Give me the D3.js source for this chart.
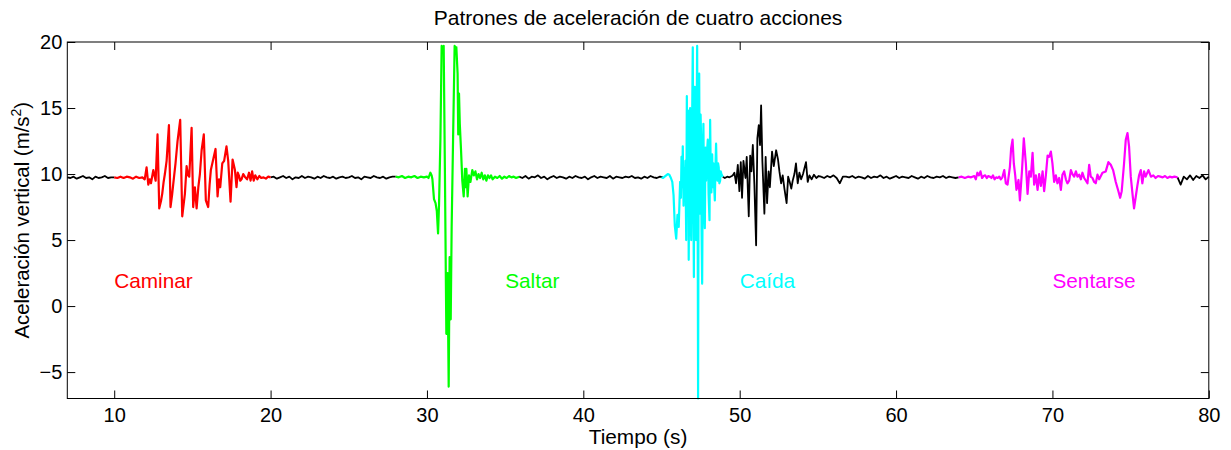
<!DOCTYPE html>
<html>
<head>
<meta charset="utf-8">
<script src="https://cdn.jsdelivr.net/npm/d3@7"></script>
<style>
  body { margin: 0; background: #fff; }
  text { font-family: "Liberation Sans", Arial, sans-serif; }
</style>
</head>
<body>
<div class="container"></div>
<script>
const WIDTH = 1231;
const HEIGHT = 450;
const MARGIN = { top: 42, right: 21, bottom: 52, left: 67 };

const xTicks = [10, 20, 30, 40, 50, 60, 70, 80];
const yTicks = [-5, 0, 5, 10, 15, 20];

// tramos en reposo (negro), una muestra cada 0.2 s
const negro1V = [9.75, 9.7, 9.8, 9.65, 9.75, 9.85, 9.7, 9.75, 9.6, 9.8, 9.7, 9.75, 9.85, 9.7, 9.75, 9.75];
const negro2V = [9.75, 9.8, 9.65, 9.75, 9.85, 9.7, 9.8, 9.6, 9.75, 9.7, 9.85, 9.7, 9.8, 9.75, 9.65, 9.8, 9.7, 9.85, 9.75, 9.7,
  9.8, 9.65, 9.75, 9.8, 9.7, 9.75, 9.85, 9.7, 9.75, 9.6, 9.8, 9.75, 9.7, 9.85, 9.75, 9.7, 9.8, 9.65, 9.75, 9.8, 9.8];
const negro3V = [9.8, 9.7, 9.85, 9.65, 9.8, 9.75, 9.9, 9.7, 9.8, 9.6, 9.75, 9.85, 9.7, 9.8, 9.75, 9.65, 9.8, 9.7, 9.85, 9.75,
  9.7, 9.8, 9.6, 9.75, 9.85, 9.7, 9.8, 9.75, 9.7, 9.85, 9.65, 9.8, 9.75, 9.7, 9.8, 9.75, 9.85, 9.7, 9.75, 9.65,
  9.8, 9.7, 9.85, 9.75, 9.7, 9.8, 9.75];
const negro4V = [9.8, 9.7, 9.85, 9.75, 9.9, 9.7, 9.3, 9.8, 9.8, 9.75, 9.85, 9.7, 9.8, 9.75, 9.65, 9.85, 9.7, 9.8, 9.75, 9.9,
  9.7, 9.8, 9.65, 9.75, 9.85, 9.7, 9.8, 9.75, 9.7, 9.85, 9.75, 9.65, 9.8, 9.7, 9.85, 9.75, 9.7, 9.8, 9.75, 9.85,
  9.7, 9.8, 9.75, 9.7, 9.75];
const negro5V = [9.75, 9.2, 9.8, 9.6, 9.9, 9.55, 9.85, 9.7, 9.9, 9.6, 9.8];
const negroInicio = [7.0, 20.0, 35.9, 55.2, 78.0];

// respuesta tras la caída (negro), [t, a]
const negroCaida = [[48.92, 9.8], [49.05, 9.7], [49.2, 9.8], [49.35, 9.75], [49.5, 9.85], [49.56, 9.9], [49.66, 10.1], [49.77, 9.3],
  [49.88, 10.7], [49.98, 8.7], [50.07, 10.9], [50.15, 8.2], [50.24, 11.0], [50.37, 9.7], [50.45, 11.3], [50.58, 6.8],
  [50.67, 11.4], [50.75, 10.2], [50.84, 12.2], [50.94, 9.2], [51.05, 4.6], [51.13, 12.7], [51.22, 13.7], [51.3, 12.2],
  [51.37, 15.2], [51.45, 11.0], [51.58, 7.0], [51.66, 11.3], [51.75, 7.8], [51.85, 10.2], [51.93, 9.0], [52.07, 11.7],
  [52.18, 10.6], [52.33, 11.8], [52.45, 11.1], [52.54, 10.2], [52.65, 9.3], [52.75, 9.9], [52.86, 8.9], [53.0, 7.8],
  [53.1, 9.8], [53.2, 9.4], [53.3, 8.9], [53.39, 9.5], [53.5, 10.0], [53.6, 10.8], [53.71, 9.3], [53.82, 10.1],
  [53.93, 9.6], [54.05, 10.0], [54.24, 10.9], [54.35, 9.4], [54.46, 9.9], [54.6, 9.6], [54.75, 9.95], [54.9, 9.7],
  [55.05, 9.85], [55.2, 9.8]];

// acciones (en color), [t, a]
const caminar = [[10.0, 9.75], [10.2, 9.7], [10.4, 9.8], [10.6, 9.7], [10.8, 9.8], [11.0, 9.75], [11.2, 9.65], [11.4, 9.8],
  [11.6, 9.7], [11.8, 9.75], [11.95, 9.6], [12.07, 10.5], [12.18, 9.2], [12.27, 9.6], [12.35, 9.3], [12.5, 10.3],
  [12.65, 9.5], [12.77, 13.0], [12.88, 7.4], [13.0, 8.0], [13.07, 8.5], [13.16, 9.4], [13.24, 10.0], [13.35, 11.0],
  [13.5, 13.7], [13.6, 7.5], [13.7, 8.4], [13.78, 9.3], [13.92, 10.8], [14.05, 12.5], [14.22, 14.1], [14.35, 6.8],
  [14.45, 7.8], [14.52, 8.5], [14.63, 10.6], [14.72, 9.9], [14.8, 9.8], [14.95, 13.5], [15.05, 7.5], [15.16, 9.0],
  [15.27, 7.4], [15.38, 9.0], [15.48, 10.0], [15.59, 11.8], [15.73, 13.0], [15.86, 8.0], [16.01, 7.5], [16.1, 9.2],
  [16.18, 10.3], [16.33, 11.1], [16.48, 11.9], [16.61, 8.3], [16.7, 9.6], [16.78, 9.0], [16.91, 10.8], [17.03, 11.0],
  [17.18, 12.1], [17.29, 11.0], [17.44, 7.9], [17.57, 11.1], [17.72, 10.3], [17.82, 9.0], [17.9, 10.1], [17.97, 9.9],
  [18.06, 9.5], [18.14, 9.6], [18.25, 10.0], [18.35, 9.8], [18.5, 9.6], [18.62, 10.1], [18.72, 9.5], [18.82, 10.2],
  [18.92, 9.5], [19.02, 9.9], [19.15, 9.6], [19.28, 9.85], [19.4, 9.7], [19.55, 9.75], [19.7, 9.65], [19.85, 9.8],
  [20.0, 9.75]];

const saltar = [[28.0, 9.8], [28.2, 9.75], [28.4, 9.85], [28.6, 9.7], [28.8, 9.8], [29.0, 9.75], [29.2, 9.85], [29.4, 9.7],
  [29.6, 9.8], [29.8, 9.75], [30.0, 9.8], [30.1, 9.7], [30.22, 10.1], [30.3, 9.9], [30.35, 9.6], [30.45, 8.1],
  [30.55, 7.8], [30.63, 7.2], [30.71, 5.5], [30.77, 7.6], [30.86, 12.6], [30.94, 19.7], [31.0, 19.6], [31.07, 19.7],
  [31.15, 10.0], [31.24, -2.1], [31.32, 2.5], [31.39, -6.1], [31.45, 3.7], [31.52, -1.0], [31.58, 6.0], [31.67, 12.6],
  [31.77, 19.7], [31.83, 19.5], [31.88, 19.6], [31.96, 17.6], [32.0, 13.0], [32.05, 16.1], [32.1, 13.8], [32.18, 11.8],
  [32.26, 9.5], [32.35, 8.3], [32.43, 10.4], [32.48, 9.0], [32.52, 10.4], [32.6, 8.3], [32.69, 9.9], [32.78, 9.4],
  [32.9, 10.3], [33.0, 9.9], [33.1, 10.2], [33.2, 9.6], [33.3, 10.0], [33.4, 9.7], [33.5, 10.1], [33.6, 9.6],
  [33.7, 9.9], [33.8, 9.5], [33.9, 9.9], [34.0, 9.7], [34.1, 9.9], [34.2, 9.6], [34.35, 9.8], [34.5, 9.7],
  [34.65, 9.85], [34.8, 9.65], [34.95, 9.8], [35.1, 9.7], [35.25, 9.85], [35.4, 9.75], [35.55, 9.8], [35.7, 9.7],
  [35.9, 9.8]];

const caida = [[45.0, 9.75], [45.1, 9.7], [45.2, 9.8], [45.3, 9.9], [45.4, 10.0], [45.5, 9.95], [45.6, 9.7], [45.69, 9.4],
  [45.77, 8.4], [45.85, 6.1], [45.94, 5.1], [46.02, 6.9], [46.1, 6.0], [46.19, 9.4], [46.24, 8.2], [46.28, 11.3],
  [46.33, 9.0], [46.36, 12.1], [46.41, 7.6], [46.45, 10.4], [46.49, 8.4], [46.53, 11.0], [46.58, 5.0], [46.62, 15.9],
  [46.66, 8.0], [46.7, 14.8], [46.74, 3.5], [46.79, 12.0], [46.83, 15.0], [46.87, 6.5], [46.9, 5.0], [46.95, 13.0],
  [47.0, 19.6], [47.04, 8.0], [47.07, 2.2], [47.1, 12.5], [47.13, 16.6], [47.17, 9.0], [47.21, 5.0], [47.25, 14.0],
  [47.28, 19.7], [47.31, 9.0], [47.34, -7.0], [47.37, 10.0], [47.41, 17.6], [47.44, 10.0], [47.47, 7.0], [47.5, 14.5],
  [47.53, 12.8], [47.56, 6.0], [47.6, 1.7], [47.64, 11.0], [47.68, 13.8], [47.72, 8.0], [47.77, 5.9], [47.81, 12.0],
  [47.85, 9.5], [47.9, 11.5], [47.96, 12.6], [48.01, 8.5], [48.07, 6.5], [48.11, 14.1], [48.15, 10.0], [48.19, 8.6],
  [48.24, 11.5], [48.28, 9.0], [48.32, 10.8], [48.36, 9.2], [48.41, 8.0], [48.45, 10.5], [48.49, 12.3], [48.54, 9.8],
  [48.58, 9.5], [48.62, 10.8], [48.66, 10.5], [48.7, 9.3], [48.75, 9.5], [48.79, 10.2], [48.83, 10.0], [48.92, 9.8]];

const sentarse = [[64.0, 9.75], [64.2, 9.8], [64.4, 9.7], [64.6, 9.8], [64.8, 9.75], [65.0, 9.85], [65.1, 9.6], [65.2, 10.1],
  [65.3, 9.9], [65.4, 10.2], [65.5, 9.7], [65.6, 9.85], [65.7, 9.9], [65.8, 9.7], [65.9, 9.85], [66.0, 9.8],
  [66.1, 9.7], [66.2, 9.9], [66.3, 9.6], [66.4, 9.75], [66.5, 9.7], [66.6, 9.8], [66.7, 9.6], [66.8, 9.75],
  [66.92, 10.3], [67.02, 9.3], [67.13, 9.2], [67.28, 10.55], [67.36, 11.95], [67.45, 12.6], [67.53, 10.8], [67.62, 9.9],
  [67.7, 8.8], [67.83, 9.55], [67.92, 8.0], [68.05, 10.2], [68.17, 12.7], [68.3, 10.8], [68.41, 8.5], [68.52, 10.2],
  [68.62, 9.8], [68.73, 11.6], [68.83, 9.2], [68.94, 9.9], [69.05, 8.8], [69.15, 10.0], [69.26, 9.1], [69.37, 10.2],
  [69.47, 8.7], [69.58, 9.9], [69.69, 11.4], [69.79, 11.3], [69.9, 11.7], [70.0, 10.8], [70.11, 9.4], [70.22, 9.9],
  [70.32, 9.3], [70.43, 9.7], [70.54, 8.8], [70.64, 9.95], [70.75, 10.2], [70.86, 9.6], [70.96, 9.3], [71.07, 9.5],
  [71.18, 10.3], [71.28, 10.0], [71.39, 9.8], [71.5, 10.2], [71.6, 9.8], [71.71, 9.95], [71.82, 9.6], [71.92, 10.1],
  [72.03, 9.7], [72.24, 9.3], [72.35, 10.7], [72.45, 9.8], [72.56, 9.7], [72.67, 9.4], [72.77, 9.3], [72.88, 9.95],
  [72.99, 9.6], [73.2, 10.1], [73.41, 10.2], [73.58, 10.9], [73.73, 10.7], [73.88, 10.3], [74.05, 9.4], [74.22, 8.7],
  [74.33, 8.2], [74.43, 8.7], [74.58, 10.8], [74.69, 12.6], [74.8, 13.1], [74.9, 12.1], [75.01, 9.8], [75.12, 8.5],
  [75.22, 7.4], [75.33, 8.3], [75.43, 9.1], [75.54, 9.9], [75.65, 10.3], [75.75, 9.3], [75.86, 10.2], [75.96, 9.8],
  [76.14, 10.3], [76.3, 9.8], [76.45, 9.9], [76.6, 9.7], [76.75, 9.85], [76.9, 9.8], [77.05, 9.75], [77.2, 9.85],
  [77.35, 9.7], [77.5, 9.8], [77.65, 9.75], [77.8, 9.8], [78.0, 9.75]];

const acciones = ["Caminar", "Saltar", "Caída", "Sentarse"];
const accionesT = [10, 35, 50, 70];
const accionesA = [2, 2, 2, 2];
const colores = ["#ff0000", "#00ff00", "#00ffff", "#ff00ff"];

var loadChart = function () {
    var svg = d3.select(".container")
        .append("svg")
        .attr("width", WIDTH)
        .attr("height", HEIGHT);

    var xScale = d3.scaleLinear()
        .domain([7, 80])
        .range([MARGIN.left + 0.3, WIDTH - MARGIN.right - 1.2]);

    var yScale = d3.scaleLinear()
        .domain([-7, 20])
        .range([HEIGHT - MARGIN.bottom + 0.5, MARGIN.top]);

    var x0 = xScale.range()[0], x1 = xScale.range()[1];
    var y0 = yScale.range()[0], y1 = yScale.range()[1];

    var line = d3.line()
        .x(function (d) { return xScale(d[0]); })
        .y(function (d) { return yScale(d[1]); });

    var plot = svg.append("g");

    // negro primero, las acciones encima
    var negros = [negro1V, negro2V, negro3V, negro4V, negro5V].map(function (vals, k) {
        return vals.map(function (v, i) { return [negroInicio[k] + i * 0.2, v]; });
    });
    negros.push(negroCaida);
    negros.forEach(function (seg) {
        plot.append("path")
            .attr("d", line(seg))
            .attr("fill", "none")
            .attr("stroke", "#000")
            .attr("stroke-width", 1.8)
            .attr("stroke-linejoin", "round");
    });

    [caminar, saltar, caida, sentarse].forEach(function (seg, i) {
        plot.append("path")
            .attr("d", line(seg))
            .attr("fill", "none")
            .attr("stroke", colores[i])
            .attr("stroke-width", 2.2)
            .attr("stroke-linejoin", "round");
    });

    // ejes (marcas hacia dentro, en los cuatro lados)
    var ax = svg.append("g").attr("stroke", "#000").attr("stroke-width", 1);
    ax.append("rect")
        .attr("x", x0).attr("y", y1)
        .attr("width", x1 - x0).attr("height", y0 - y1)
        .attr("fill", "none");

    svg.append("g")
        .attr("transform", "translate(0," + y0 + ")")
        .call(d3.axisBottom(xScale).tickValues(xTicks).tickSizeInner(-8).tickSizeOuter(0).tickPadding(9))
        .call(function (g) { g.select(".domain").remove(); });
    svg.append("g")
        .attr("transform", "translate(0," + y1 + ")")
        .call(d3.axisTop(xScale).tickValues(xTicks).tickSizeInner(-8).tickSizeOuter(0).tickFormat(""))
        .call(function (g) { g.select(".domain").remove(); });
    svg.append("g")
        .attr("transform", "translate(" + x0 + ",0)")
        .call(d3.axisLeft(yScale).tickValues(yTicks).tickSizeInner(-8).tickSizeOuter(0).tickPadding(5)
            .tickFormat(function (d) { return d < 0 ? "\u2212" + Math.abs(d) : d; }))
        .call(function (g) { g.select(".domain").remove(); });
    svg.append("g")
        .attr("transform", "translate(" + x1 + ",0)")
        .call(d3.axisRight(yScale).tickValues(yTicks).tickSizeInner(-8).tickSizeOuter(0).tickFormat(""))
        .call(function (g) { g.select(".domain").remove(); });

    svg.selectAll(".tick text")
        .attr("font-family", "Liberation Sans, Arial, sans-serif")
        .attr("font-size", 20)
        .attr("fill", "#000");
    svg.selectAll(".tick line").attr("stroke", "#000");

    // etiquetas de las acciones
    acciones.forEach(function (nombre, i) {
        svg.append("text")
            .attr("x", xScale(accionesT[i]))
            .attr("y", yScale(accionesA[i]))
            .attr("dy", "0.38em")
            .attr("font-size", 20.8)
            .attr("fill", colores[i])
            .text(nombre);
    });

    svg.append("text")
        .attr("x", (x0 + x1) / 2)
        .attr("y", 25)
        .attr("text-anchor", "middle")
        .attr("font-size", 21)
        .text("Patrones de aceleración de cuatro acciones");

    svg.append("text")
        .attr("x", (x0 + x1) / 2)
        .attr("y", 444)
        .attr("text-anchor", "middle")
        .attr("font-size", 20.8)
        .text("Tiempo (s)");

    var yl = svg.append("text")
        .attr("transform", "translate(29," + ((y0 + y1) / 2) + ") rotate(-90)")
        .attr("text-anchor", "middle")
        .attr("font-size", 20.4);
    yl.append("tspan").text("Aceleración vertical (m/s");
    yl.append("tspan").attr("font-size", 14).attr("dy", -8).text("2");
    yl.append("tspan").attr("dy", 8).text(")");
};

window.onload = function () {
    loadChart();
};
</script>
</body>
</html>
